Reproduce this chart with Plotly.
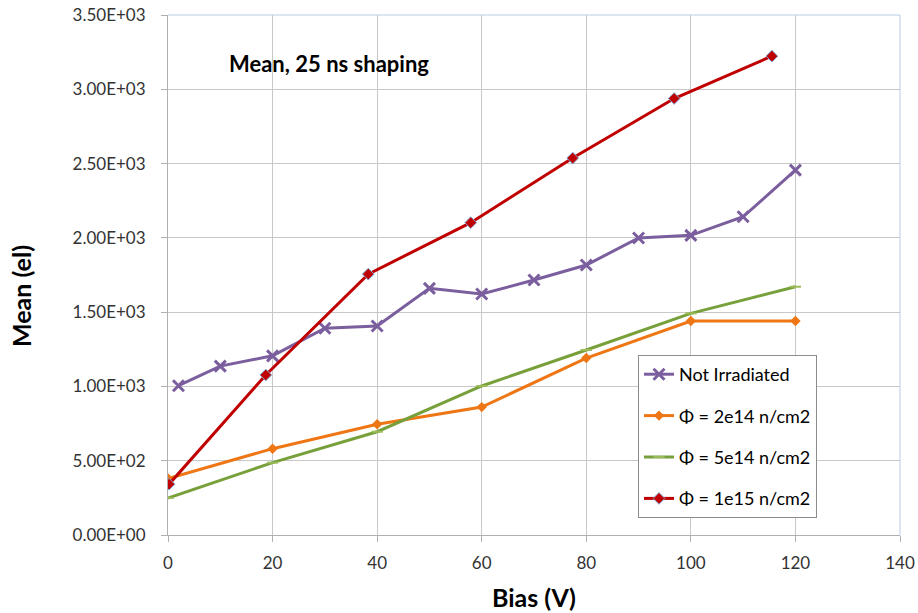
import plotly.graph_objects as go

# Data
x_not = [2, 10, 20, 30, 40, 50, 60, 70, 80, 90, 100, 110, 120]
y_not = [1005, 1137, 1206, 1392, 1407, 1660, 1622, 1716, 1817, 1999, 2017, 2142, 2456]

x_2e14 = [0, 20, 40, 60, 80, 100, 120]
y_2e14 = [380, 581, 745, 861, 1191, 1440, 1440]

x_5e14 = [0, 20, 40, 60, 80, 100, 120]
y_5e14 = [249, 487, 695, 1003, 1245, 1492, 1671]

x_1e15 = [0.2, 18.7, 38.3, 57.9, 77.4, 96.8, 115.5]
y_1e15 = [342, 1077, 1756, 2102, 2537, 2938, 3223]

y_tickvals = [0, 500, 1000, 1500, 2000, 2500, 3000, 3500]
y_ticktext = ["0.00E+00", "5.00E+02", "1.00E+03", "1.50E+03",
              "2.00E+03", "2.50E+03", "3.00E+03", "3.50E+03"]
x_tickvals = [0, 20, 40, 60, 80, 100, 120, 140]

FONT = "Lato, 'Open Sans', sans-serif"

# plot area in pixels
L, R, T, B = 168, 900, 15, 535
W, H = 918, 613
PW, PH = R - L, B - T

fig = go.Figure()
fig.add_trace(go.Scatter(
    x=x_not, y=y_not, name="Not Irradiated", mode="lines+markers",
    legendgroup="a",
    line=dict(color="#7B5E9E", width=3),
    marker=dict(symbol="x-thin", size=11, line=dict(color="#7B5E9E", width=3))))
fig.add_trace(go.Scatter(
    x=x_2e14, y=y_2e14, name="Φ = 2e14 n/cm2", mode="lines+markers",
    legendgroup="b",
    line=dict(color="#EE7614", width=3),
    marker=dict(symbol="diamond", size=8, color="#EE7614")))
fig.add_trace(go.Scatter(
    x=x_5e14, y=y_5e14, name="Φ = 5e14 n/cm2", mode="lines+markers",
    legendgroup="c",
    line=dict(color="#77A03B", width=3),
    marker=dict(symbol="line-ew", size=8, line=dict(color="#9BBB59", width=2))))
fig.add_trace(go.Scatter(
    x=x_1e15, y=y_1e15, name="Φ = 1e15 n/cm2", mode="lines+markers",
    legendgroup="d",
    line=dict(color="#C00000", width=3),
    marker=dict(symbol="diamond", size=9, color="#C00000",
                line=dict(color="#7FA7D8", width=1))))

fig.add_annotation(text="<b>Mean, 25 ns shaping</b>", xref="paper", yref="paper",
                   x=(227 - L) / PW, y=(B - 63) / PH, xanchor="left", yanchor="middle",
                   showarrow=False, font=dict(family=FONT, size=22, color="black"))
fig.add_annotation(text="<b>Bias (V)</b>", xref="paper", yref="paper",
                   x=(534 - L) / PW, y=(B - 597) / PH, xanchor="center", yanchor="middle",
                   showarrow=False, font=dict(family=FONT, size=25, color="black"))
fig.add_annotation(text="<b>Mean (el)</b>", xref="paper", yref="paper", textangle=-90,
                   x=(21 - L) / PW, y=(B - 296) / PH, xanchor="center", yanchor="middle",
                   showarrow=False, font=dict(family=FONT, size=25, color="black"))

fig.update_layout(
    width=W, height=H,
    margin=dict(l=L, r=W - R, t=T, b=H - B, autoexpand=False),
    paper_bgcolor="white", plot_bgcolor="white",
    font=dict(family=FONT, color="#333333"),
    showlegend=True,
    legend=dict(x=(638 - L) / PW, y=(B - 355) / PH, xanchor="left", yanchor="top",
                bgcolor="white", bordercolor="#8c8c8c", borderwidth=1,
                font=dict(family=FONT, size=18, color="black"),
                itemwidth=30, tracegroupgap=15, traceorder="grouped"),
    xaxis=dict(range=[0, 140], tickvals=x_tickvals, showgrid=True, gridcolor="#c8c8c8",
               gridwidth=1, zeroline=False, showline=True, linecolor="#b0b0b0",
               ticks="outside", ticklen=6, tickcolor="#b0b0b0", automargin=False,
               ticklabelstandoff=7,
               tickfont=dict(family=FONT, size=17, color="#333333")),
    yaxis=dict(range=[0, 3500], tickvals=y_tickvals, ticktext=y_ticktext, showgrid=True,
               gridcolor="#c8c8c8", gridwidth=1, zeroline=False, showline=True,
               linecolor="#b0b0b0", ticks="outside", ticklen=6, tickcolor="#b0b0b0",
               automargin=False, ticklabelstandoff=12,
               tickfont=dict(family=FONT, size=17, color="#333333")),
)

# top and right light-blue border of plot area
fig.add_shape(type="line", xref="paper", yref="paper", x0=0, x1=1, y0=1, y1=1,
              line=dict(color="#B9CDE5", width=1))
fig.add_shape(type="line", xref="paper", yref="paper", x0=1, x1=1, y0=0, y1=1,
              line=dict(color="#B9CDE5", width=1))

fig.write_html("out.html")
